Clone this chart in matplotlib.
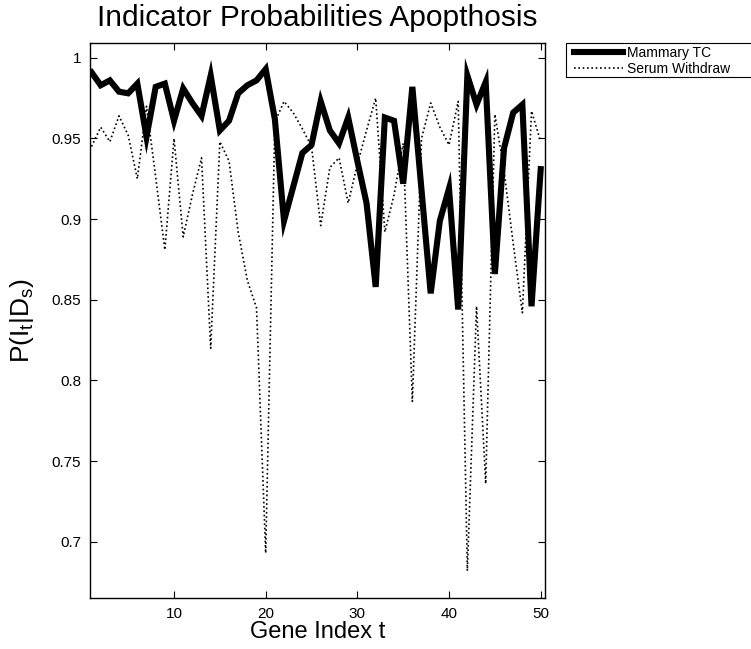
import matplotlib.pyplot as plt
import matplotlib.patches as mpatches
import numpy as np

plt.rcParams['font.family'] = ['Liberation Sans', 'DejaVu Sans']
plt.rcParams['mathtext.default'] = 'regular'

# data
gene_index = np.arange(1, 51)
mammary_tc = [0.991, 0.983, 0.986, 0.979, 0.978, 0.984, 0.951, 0.982, 0.984, 0.961,
              0.981, 0.972, 0.964, 0.989, 0.955, 0.961, 0.978, 0.983, 0.986, 0.993,
              0.962, 0.899, 0.920, 0.941, 0.946, 0.973, 0.955, 0.947, 0.963, 0.936,
              0.910, 0.858, 0.963, 0.961, 0.922, 0.982, 0.918, 0.854, 0.899, 0.919,
              0.844, 0.989, 0.971, 0.985, 0.866, 0.944, 0.966, 0.971, 0.846, 0.931]
serum_withdraw = [0.945, 0.957, 0.948, 0.964, 0.952, 0.925, 0.970, 0.926, 0.881, 0.950,
                  0.889, 0.915, 0.938, 0.820, 0.948, 0.936, 0.892, 0.862, 0.845, 0.693,
                  0.960, 0.973, 0.966, 0.956, 0.945, 0.896, 0.932, 0.938, 0.910, 0.934,
                  0.955, 0.975, 0.892, 0.915, 0.947, 0.787, 0.950, 0.972, 0.957, 0.946,
                  0.973, 0.682, 0.846, 0.736, 0.965, 0.930, 0.885, 0.842, 0.967, 0.948]
series_names = ['Mammary TC', 'Serum Withdraw']
x_ticks = [10, 20, 30, 40, 50]
y_ticks = [0.7, 0.75, 0.8, 0.85, 0.9, 0.95, 1.0]
y_tick_labels = ['0.7', '0.75', '0.8', '0.85', '0.9', '0.95', '1']

W, H = 751, 649
fig = plt.figure(figsize=(W / 100, H / 100), dpi=100)
ax = fig.add_axes([89.5 / W, 1 - 598.3 / H, (545 - 89.5) / W, (598.3 - 43.3) / H])

ax.plot(gene_index, mammary_tc, color='black', linewidth=4.4,
        solid_joinstyle='miter', label=series_names[0])
ax.plot(gene_index, serum_withdraw, color='black', linewidth=1.2,
        linestyle=(0, (1, 1.6)), label=series_names[1])

ax.set_xlim(0.78, 50.47)
ax.set_ylim(0.665, 1.009)
ax.set_xticks(x_ticks)
ax.set_yticks(y_ticks)
ax.set_yticklabels(y_tick_labels)
ax.tick_params(direction='in', length=5, width=0.8, labelsize=11,
               top=True, right=True, pad=6)
for s in ax.spines.values():
    s.set_linewidth(1.0)

ax.set_title('Indicator Probabilities Apopthosis', fontsize=21.5, pad=12.5)
ax.set_xlabel('Gene Index t', fontsize=17, labelpad=0)
ax.set_ylabel('P(I$_t$|D$_s$)', fontsize=19, labelpad=11)

# legend outside the axes, box runs off the right edge like the original
leg = fig.legend(loc='upper left', bbox_to_anchor=(574 / W, 1 - 45.5 / H),
                 fontsize=10, frameon=False, handlelength=3.5,
                 handletextpad=0.3, labelspacing=0.2,
                 borderpad=0, borderaxespad=0)
fig.add_artist(mpatches.Rectangle((566 / W, 1 - 77 / H), (800 - 566) / W, 34 / H,
                                  transform=fig.transFigure, fill=False,
                                  edgecolor='black', linewidth=0.8))

fig.savefig('out.png', dpi=100, facecolor='white')
